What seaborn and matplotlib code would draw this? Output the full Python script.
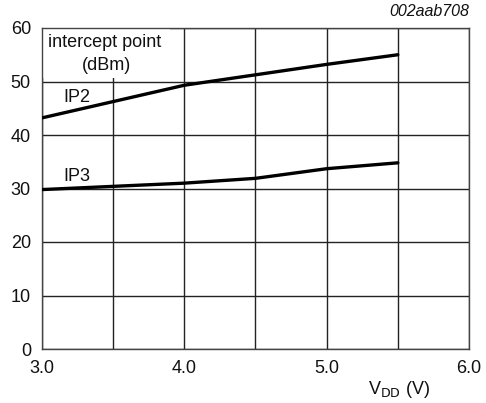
import matplotlib
matplotlib.use("Agg")
import matplotlib.pyplot as plt
from matplotlib.patches import Rectangle
import seaborn as sns
import pandas as pd
import numpy as np

vdd_ip2 = [3.0, 4.0, 5.0, 5.5]
ip2 = [43.2, 49.3, 53.2, 55.0]
vdd_ip3 = [3.0, 4.0, 4.5, 5.0, 5.5]
ip3 = [29.8, 31.0, 31.9, 33.7, 34.8]
xticks = [3.0, 3.5, 4.0, 4.5, 5.0, 5.5, 6.0]
xtick_labels = ["3.0", "", "4.0", "", "5.0", "", "6.0"]
yticks = [0, 10, 20, 30, 40, 50, 60]

sns.set_theme(style="white")
plt.rcParams['font.family'] = ['Liberation Sans', 'DejaVu Sans']

fig = plt.figure(figsize=(4.86, 4.03), dpi=100)
ax = fig.add_axes([42/486, 1-349/403, (469-42)/486, (349-28)/403])

df2 = pd.DataFrame({"x": vdd_ip2, "y": ip2})
df3 = pd.DataFrame({"x": vdd_ip3, "y": ip3})
sns.lineplot(data=df2, x="x", y="y", ax=ax, color="black", linewidth=2.4, zorder=4)
sns.lineplot(data=df3, x="x", y="y", ax=ax, color="black", linewidth=2.4, zorder=4)

ax.set_xlim(3.0, 6.0)
ax.set_ylim(0, 60)
ax.set_xticks(xticks)
ax.set_xticklabels(xtick_labels)
ax.set_yticks(yticks)
ax.set_yticklabels([str(v) for v in yticks])
ax.set_axisbelow(True)
ax.grid(True, color="#222222", linewidth=1.0)
ax.tick_params(axis="x", length=0, labelsize=13, colors="#111111", pad=8)
ax.tick_params(axis="y", length=0, labelsize=13, colors="#111111", pad=8)
for s in ax.spines.values():
    s.set_color("#444444")
    s.set_linewidth(1.0)
ax.set_xlabel("")
ax.set_ylabel("")

# white box behind the axis title
ax.add_patch(Rectangle((0.003, (349-78)/321), (170-43)/427, (78-29)/321,
                       transform=ax.transAxes, facecolor="white",
                       edgecolor="none", zorder=2))
ax.text(3.04, 57.2, "intercept point", fontsize=13, ha="left", va="center",
        color="#111111", zorder=3)
ax.text(3.45, 52.9, "(dBm)", fontsize=13, ha="center", va="center",
        color="#111111", zorder=3)
ax.text(3.15, 47.1, "IP2", fontsize=13, ha="left", va="center", color="#111111")
ax.text(3.15, 32.3, "IP3", fontsize=13, ha="left", va="center", color="#111111")
fig.text(469/486, 1-12/403, "002aab708", fontsize=11.5, style="italic",
         ha="right", va="center", color="#111111")
fig.text(430/486, 1-390/403, r"V$_{\mathrm{DD}}$ (V)", fontsize=13,
         ha="right", va="center", color="#111111")

fig.savefig("out.png", dpi=100)
